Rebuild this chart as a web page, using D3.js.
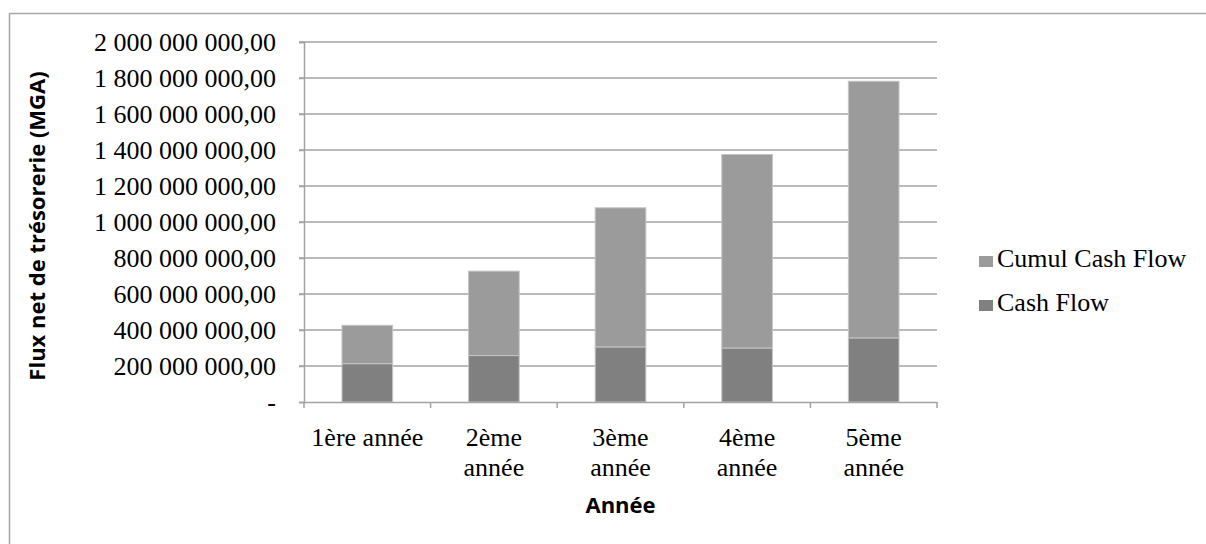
<!DOCTYPE html>
<html lang="fr">
<head>
<meta charset="utf-8">
<script src="https://cdn.jsdelivr.net/npm/d3@7"></script>
<style>
  html, body { margin: 0; padding: 0; background: #fff; }
  svg { display: block; }
  .serif { font-family: "Liberation Serif", "DejaVu Serif", serif; }
  .sans-bold { font-family: "Open Sans", "Noto Sans", sans-serif; font-weight: bold; }
</style>
</head>
<body>
<svg id="chart" width="1206" height="544"></svg>
<script>
// Années du plan et flux de trésorerie (MGA)
const categories = [["1ère année"], ["2ème", "année"], ["3ème", "année"], ["4ème", "année"], ["5ème", "année"]];
const cashFlow = [213000000, 258000000, 306000000, 300000000, 356000000];
const cumulCashFlow = [213000000, 469000000, 773000000, 1075000000, 1426000000];
const yTicks = [0, 200000000, 400000000, 600000000, 800000000, 1000000000, 1200000000, 1400000000, 1600000000, 1800000000, 2000000000];
const seriesNames = ["Cash Flow", "Cumul Cash Flow"];
const seriesColors = ["#808080", "#9b9b9b"];

const svg = d3.select("#chart");
const plot = { left: 304, right: 937, top: 42, bottom: 402 };

// cadre du graphique
svg.append("rect")
  .attr("x", 9.5).attr("y", 13.5)
  .attr("width", 1250).attr("height", 600)
  .attr("fill", "#fff").attr("stroke", "#a6a6a6").attr("stroke-width", 1.5);

const keys = categories.map(c => c.join(" "));
const x = d3.scaleBand().domain(keys).range([plot.left, plot.right]).paddingInner(0.6).paddingOuter(0.3);
const xOuter = d3.scaleBand().domain(keys).range([plot.left, plot.right]);
const y = d3.scaleLinear().domain([0, 2000000000]).range([plot.bottom, plot.top]);

const numFmt = d3.formatLocale({ decimal: ",", thousands: " ", grouping: [3] }).format(",.2f");
const fmt = v => v === 0 ? "-" : numFmt(v);

// quadrillage horizontal
svg.append("g").selectAll("line").data(yTicks.slice(1)).join("line")
  .attr("x1", plot.left - 5).attr("x2", plot.right)
  .attr("y1", d => y(d)).attr("y2", d => y(d))
  .attr("stroke", "#a3a3a3").attr("stroke-width", 1.5);

// axe vertical
const yAxis = svg.append("g")
  .attr("transform", `translate(${plot.left},0)`)
  .call(d3.axisLeft(y).tickValues(yTicks).tickFormat(fmt).tickSize(5).tickPadding(23));
yAxis.attr("font-family", null).attr("font-size", null);
yAxis.select(".domain").attr("stroke", "#a3a3a3").attr("stroke-width", 1.5);
yAxis.selectAll(".tick line").attr("stroke", "#a3a3a3").attr("stroke-width", 1.5);
yAxis.selectAll(".tick text")
  .attr("class", "serif")
  .attr("font-size", 26).attr("fill", "#000");

// barres empilées
const stacked = d3.stack().keys([0, 1]).value((d, k) => d[k])(cashFlow.map((v, i) => [v, cumulCashFlow[i]]));
stacked.forEach((layer, s) => {
  svg.append("g").selectAll("rect").data(layer).join("rect")
    .attr("x", (d, i) => x(keys[i]))
    .attr("width", x.bandwidth())
    .attr("y", d => y(d[1]))
    .attr("height", d => y(d[0]) - y(d[1]))
    .attr("fill", seriesColors[s])
    .attr("stroke", "#c4c4c4").attr("stroke-width", 1);
});

// axe horizontal
const xAxis = svg.append("g")
  .attr("transform", `translate(0,${plot.bottom})`)
  .call(d3.axisBottom(xOuter).tickSize(0).tickFormat(""));
xAxis.select(".domain").attr("stroke", "#a3a3a3").attr("stroke-width", 1.5);
svg.append("g").selectAll("line").data(d3.range(keys.length + 1)).join("line")
  .attr("x1", i => plot.left + i * xOuter.step()).attr("x2", i => plot.left + i * xOuter.step())
  .attr("y1", plot.bottom).attr("y2", plot.bottom + 6)
  .attr("stroke", "#a3a3a3").attr("stroke-width", 1.5);

// libellés des années
const catLabels = svg.append("g").selectAll("text").data(categories).join("text")
  .attr("class", "serif")
  .attr("x", (d, i) => xOuter(keys[i]) + xOuter.bandwidth() / 2)
  .attr("y", 446)
  .attr("text-anchor", "middle")
  .attr("font-size", 26).attr("fill", "#000");
catLabels.selectAll("tspan").data(d => d).join("tspan")
  .attr("x", function () { return this.parentNode.getAttribute("x"); })
  .attr("dy", (d, i) => i === 0 ? 0 : 30)
  .text(d => d);

// titres des axes
svg.append("text")
  .attr("class", "sans-bold")
  .attr("transform", `translate(45,${(plot.top + plot.bottom) / 2 + 4}) rotate(-90)`)
  .attr("text-anchor", "middle")
  .attr("font-size", 22).attr("fill", "#000")
  .text("Flux net de trésorerie (MGA)");

svg.append("text")
  .attr("class", "sans-bold")
  .attr("x", (plot.left + plot.right) / 2).attr("y", 513)
  .attr("text-anchor", "middle")
  .attr("font-size", 22).attr("fill", "#000")
  .text("Année");

// légende (ordre inverse de l'empilement)
const legendItems = [1, 0];
const legend = svg.append("g").selectAll("g").data(legendItems).join("g")
  .attr("transform", (d, i) => `translate(979,${256 + i * 44})`);
legend.append("rect").attr("width", 14).attr("height", 11).attr("fill", d => seriesColors[d]);
legend.append("text")
  .attr("class", "serif")
  .attr("x", 18).attr("y", 11)
  .attr("font-size", 26).attr("fill", "#000")
  .text(d => seriesNames[d]);
</script>
</body>
</html>
